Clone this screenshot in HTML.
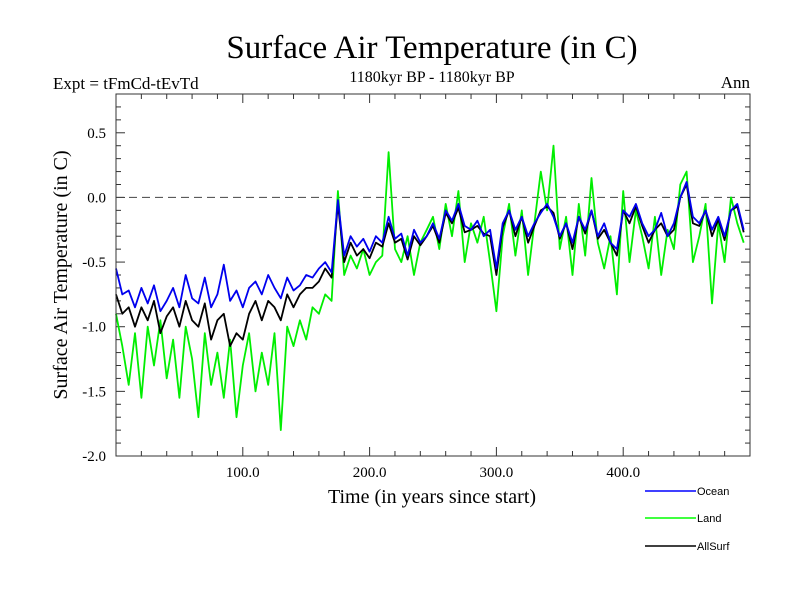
<!DOCTYPE html>
<html><head><meta charset="utf-8"><style>
body{margin:0;background:#fff}
svg{display:block}
.serif{font-family:"Liberation Serif",serif}
.sans{font-family:"Liberation Sans",sans-serif}
</style></head><body>
<svg id="chart" width="800" height="600" xmlns="http://www.w3.org/2000/svg">
<text class="serif" x="432" y="58" font-size="33" text-anchor="middle">Surface Air Temperature (in C)</text>
<text class="serif" x="53" y="89" font-size="17">Expt = tFmCd-tEvTd</text>
<text class="serif" x="432" y="82" font-size="16" text-anchor="middle">1180kyr BP - 1180kyr BP</text>
<text class="serif" x="750" y="88" font-size="17" text-anchor="end">Ann</text>
<text class="serif" x="0" y="0" font-size="20" text-anchor="middle" transform="translate(67,275) rotate(-90)">Surface Air Temperature (in C)</text>
<text class="serif" x="432" y="503" font-size="20" text-anchor="middle">Time (in years since start)</text>
<g id="ticks"></g>
<g id="series"></g>
<rect x="116" y="94" width="634" height="362" fill="none" stroke="#333" stroke-width="1"/>
<g>
<line x1="645" y1="491" x2="696" y2="491" stroke="#0000ff" stroke-width="1.5"/>
<text class="sans" x="697" y="495" font-size="11">Ocean</text>
<line x1="645" y1="518" x2="696" y2="518" stroke="#00ff00" stroke-width="1.5"/>
<text class="sans" x="697" y="522" font-size="11">Land</text>
<line x1="645" y1="546" x2="696" y2="546" stroke="#000" stroke-width="1.5"/>
<text class="sans" x="697" y="550" font-size="11">AllSurf</text>
</g>
</svg>
<script>
const yearStart = 0, yearStep = 5;
const yTickValues = [0.5, 0.0, -0.5, -1.0, -1.5, -2.0];
const yTickLabels = ["0.5", "0.0", "-0.5", "-1.0", "-1.5", "-2.0"];
const xTickValues = [100, 200, 300, 400];
const xTickLabels = ["100.0", "200.0", "300.0", "400.0"];
const ocean = [-0.55,-0.75,-0.72,-0.85,-0.7,-0.82,-0.68,-0.88,-0.8,-0.7,-0.85,-0.6,-0.78,-0.82,-0.62,-0.85,-0.75,-0.52,-0.8,-0.72,
-0.85,-0.7,-0.65,-0.75,-0.6,-0.7,-0.78,-0.62,-0.72,-0.68,-0.6,-0.62,-0.55,-0.5,-0.58,-0.02,-0.45,-0.3,-0.38,-0.32,
-0.42,-0.3,-0.35,-0.15,-0.32,-0.28,-0.45,-0.25,-0.35,-0.3,-0.2,-0.32,-0.1,-0.18,-0.05,-0.22,-0.25,-0.18,-0.3,-0.25,
-0.55,-0.2,-0.1,-0.25,-0.15,-0.3,-0.2,-0.12,-0.05,-0.15,-0.3,-0.2,-0.35,-0.15,-0.25,-0.1,-0.3,-0.2,-0.35,-0.4,
-0.1,-0.15,-0.05,-0.2,-0.3,-0.25,-0.12,-0.3,-0.2,0.0,0.12,-0.15,-0.2,-0.1,-0.25,-0.15,-0.3,-0.1,-0.05,-0.25];
const land = [-0.9,-1.15,-1.45,-1.05,-1.55,-1.0,-1.3,-0.95,-1.4,-1.1,-1.55,-1.0,-1.25,-1.7,-1.05,-1.45,-1.2,-1.55,-1.1,-1.7,
-1.3,-1.05,-1.5,-1.2,-1.45,-1.05,-1.8,-1.0,-1.15,-0.95,-1.1,-0.85,-0.9,-0.75,-0.8,0.05,-0.6,-0.45,-0.55,-0.4,
-0.6,-0.5,-0.45,0.35,-0.4,-0.5,-0.3,-0.6,-0.35,-0.25,-0.15,-0.4,-0.05,-0.3,0.05,-0.5,-0.2,-0.35,-0.15,-0.5,
-0.88,-0.3,-0.05,-0.45,-0.1,-0.6,-0.2,0.2,-0.1,0.4,-0.4,-0.15,-0.6,-0.05,-0.45,0.15,-0.35,-0.55,-0.3,-0.75,
0.05,-0.5,-0.1,-0.3,-0.55,-0.15,-0.6,-0.25,-0.4,0.1,0.2,-0.5,-0.3,-0.05,-0.82,-0.2,-0.5,0.0,-0.2,-0.35];
const allSurf = [-0.75,-0.9,-0.85,-1.0,-0.85,-0.95,-0.8,-1.05,-0.92,-0.85,-1.0,-0.8,-0.95,-1.0,-0.82,-1.1,-0.95,-0.9,-1.15,-1.05,
-1.1,-0.9,-0.8,-0.95,-0.8,-0.85,-0.95,-0.75,-0.85,-0.75,-0.7,-0.7,-0.65,-0.55,-0.62,-0.05,-0.5,-0.35,-0.45,-0.4,
-0.47,-0.35,-0.38,-0.2,-0.35,-0.32,-0.48,-0.3,-0.37,-0.3,-0.22,-0.35,-0.12,-0.2,-0.08,-0.27,-0.25,-0.22,-0.28,-0.3,
-0.6,-0.23,-0.1,-0.3,-0.15,-0.35,-0.22,-0.1,-0.07,-0.12,-0.32,-0.2,-0.4,-0.15,-0.28,-0.1,-0.32,-0.25,-0.35,-0.45,
-0.1,-0.2,-0.07,-0.22,-0.35,-0.25,-0.2,-0.3,-0.25,0.0,0.1,-0.2,-0.22,-0.1,-0.3,-0.17,-0.33,-0.1,-0.07,-0.27];

const L = 116, R = 750, T = 94, B = 456;
const xMin = 0, xMax = 500, yMin = -2.0, yMax = 0.8;
function xs(v){ return L + (v - xMin) / (xMax - xMin) * (R - L); }
function ys(v){ return B - (v - yMin) / (yMax - yMin) * (B - T); }
const NS = "http://www.w3.org/2000/svg";
const tg = document.getElementById('ticks');
function mk(tag, attrs, parent){ const e = document.createElementNS(NS, tag); for (const k in attrs) e.setAttribute(k, attrs[k]); parent.appendChild(e); return e; }

for (let v = 20; v < 500; v += 20) {
  const big = v % 100 === 0, len = big ? 9 : 5;
  const a = mk('line', {x1: xs(v), x2: xs(v), y1: B, y2: B - len, stroke: '#333'}, tg);
  
  
  const b = mk('line', {x1: xs(v), x2: xs(v), y1: T, y2: T + len, stroke: '#333'}, tg);
  
  
}
for (let k = -19; k <= 7; k++) {
  const v = k / 10, big = k % 5 === 0, len = big ? 9 : 5;
  const a = mk('line', {x1: L, x2: L + len, y1: ys(v), y2: ys(v), stroke: '#333'}, tg);
  
  
  const b = mk('line', {x1: R, x2: R - len, y1: ys(v), y2: ys(v), stroke: '#333'}, tg);
  
  
}
yTickValues.forEach((v, i) => {
  const t = mk('text', {x: 106, y: ys(v) + 5, 'font-size': 15, 'text-anchor': 'end', class: 'serif'}, tg);
  t.textContent = yTickLabels[i];
  
  
});
xTickValues.forEach((v, i) => {
  const t = mk('text', {x: xs(v), y: 477, 'font-size': 15, 'text-anchor': 'middle', class: 'serif'}, tg);
  t.textContent = xTickLabels[i];
  
  
});
const zl = mk('line', {x1: L, x2: R, y1: ys(0), y2: ys(0), stroke: '#444', 'stroke-dasharray': '8,5'}, tg);



const sg = document.getElementById('series');
function draw(arr, color, name){
  const pts = arr.map((v, i) => xs(yearStart + i * yearStep).toFixed(1) + ',' + ys(v).toFixed(1)).join(' ');
  const p = mk('polyline', {points: pts, fill: 'none', stroke: color, 'stroke-width': 1.8, 'stroke-linejoin': 'round'}, sg);
  
  
}
draw(land, '#00ee00', 'land-series');
draw(allSurf, '#000000', 'allsurf-series');
draw(ocean, '#0000ee', 'ocean-series');
</script>
</body></html>
